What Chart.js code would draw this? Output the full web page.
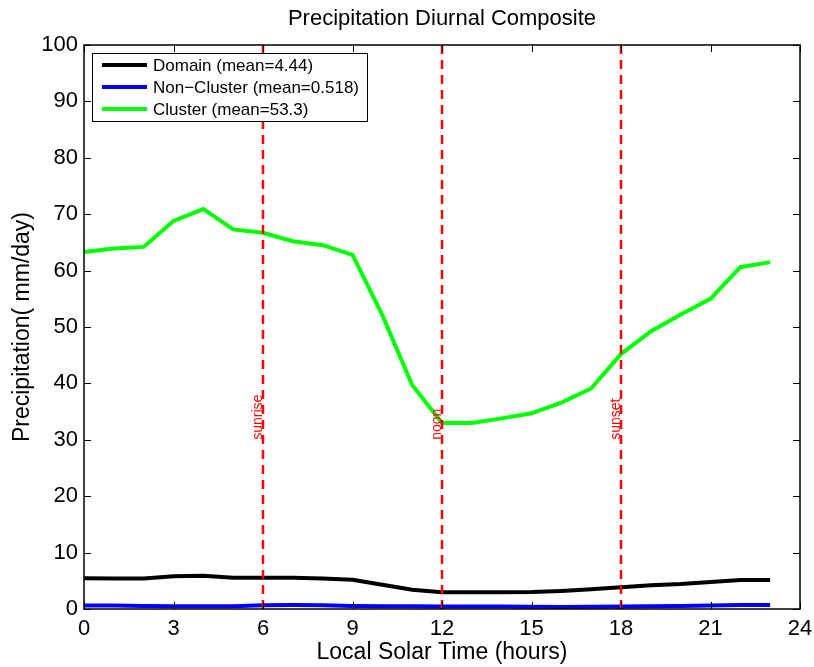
<!DOCTYPE html>
<html>
<head>
<meta charset="utf-8">
<script src="https://cdn.jsdelivr.net/npm/chart.js@4.4.1/dist/chart.umd.min.js"></script>
<style>
  html, body { margin: 0; padding: 0; background: #ffffff; }
  #wrap { width: 814px; height: 667px; }
</style>
</head>
<body>
<div id="wrap"><canvas id="c" width="814" height="667"></canvas></div>
<script>
// Hourly composite precipitation (mm/day) by local solar time
const hours = [0, 1, 2, 3, 4, 5, 6, 7, 8, 9, 10, 11, 12, 13, 14, 15, 16, 17, 18, 19, 20, 21, 22, 23];
const domain = [5.44, 5.42, 5.40, 5.79, 5.90, 5.55, 5.55, 5.55, 5.40, 5.20, 4.30, 3.40,
                2.95, 2.95, 2.95, 3.00, 3.20, 3.50, 3.85, 4.20, 4.43, 4.79, 5.14, 5.14];
const nonCluster = [0.60, 0.60, 0.55, 0.50, 0.50, 0.50, 0.65, 0.70, 0.65, 0.55, 0.50, 0.50,
                    0.45, 0.45, 0.45, 0.40, 0.35, 0.40, 0.45, 0.50, 0.55, 0.60, 0.70, 0.70];
const cluster = [63.3, 63.9, 64.2, 68.8, 70.9, 67.3, 66.7, 65.2, 64.5, 62.8, 52.1, 39.7,
                 33.0, 33.0, 33.8, 34.7, 36.6, 39.1, 45.2, 49.2, 52.2, 55.0, 60.6, 61.5];
const seriesLabels = ['Domain (mean=4.44)', 'Non\u2212Cluster (mean=0.518)', 'Cluster (mean=53.3)'];
const seriesColors = ['#000000', '#0000ff', '#00ff00'];

// Reference times of day marked by dashed lines
const eventHours = [6, 12, 18];
const eventNames = ['sunrise', 'noon', 'sunset'];
const eventLabelLevel = 30;

const xTicks = [0, 3, 6, 9, 12, 15, 18, 21, 24];
const yTicks = [0, 10, 20, 30, 40, 50, 60, 70, 80, 90, 100];

const chartTitle = 'Precipitation Diurnal Composite';
const xTitle = 'Local Solar Time (hours)';
const yTitle = 'Precipitation( mm/day)';

const FONT = '"Liberation Sans", Arial, Helvetica, sans-serif';

const toPoints = (ys) => hours.map((h, i) => ({ x: h, y: ys[i] }));

const seriesSets = [domain, nonCluster, cluster].map((ys, i) => ({
  label: seriesLabels[i],
  data: toPoints(ys),
  borderColor: seriesColors[i],
  backgroundColor: seriesColors[i],
  borderWidth: 4,
  pointRadius: 0,
  tension: 0,
  fill: false,
  isSeries: true
}));

const eventSets = eventHours.map((h, i) => ({
  label: eventNames[i],
  data: [{ x: h, y: 0 }, { x: h, y: 100 }],
  borderColor: '#ff0000',
  borderWidth: 2.5,
  borderDash: [9, 6],
  pointRadius: 0,
  fill: false,
  isSeries: false
}));

// Box frame, inward ticks on all four sides, title, legend and event labels
const framePlugin = {
  id: 'frame',
  afterDatasetsDraw(chart) {
    const { ctx, chartArea: a, scales } = chart;
    ctx.save();
    ctx.strokeStyle = '#000';
    ctx.lineWidth = 1.5;
    ctx.strokeRect(a.left, a.top, a.right - a.left, a.bottom - a.top);
    const tl = 7;
    ctx.lineWidth = 1;
    ctx.beginPath();
    xTicks.forEach(v => {
      const px = Math.round(scales.x.getPixelForValue(v)) + 0.5;
      ctx.moveTo(px, a.bottom); ctx.lineTo(px, a.bottom - tl);
      ctx.moveTo(px, a.top); ctx.lineTo(px, a.top + tl);
    });
    yTicks.forEach(v => {
      const py = Math.round(scales.y.getPixelForValue(v)) + 0.5;
      ctx.moveTo(a.left, py); ctx.lineTo(a.left + tl, py);
      ctx.moveTo(a.right, py); ctx.lineTo(a.right - tl, py);
    });
    ctx.stroke();

    // event labels, reading upward beside each dashed line
    ctx.fillStyle = '#ff0000';
    ctx.font = '14px ' + FONT;
    ctx.textAlign = 'left';
    ctx.textBaseline = 'alphabetic';
    eventHours.forEach((h, i) => {
      const px = scales.x.getPixelForValue(h);
      const py = scales.y.getPixelForValue(eventLabelLevel);
      ctx.save();
      ctx.translate(px - 1, py);
      ctx.rotate(-Math.PI / 2);
      ctx.fillText(eventNames[i], 0, 0);
      ctx.restore();
    });

    // title
    ctx.fillStyle = '#000';
    ctx.font = '22px ' + FONT;
    ctx.textAlign = 'center';
    ctx.textBaseline = 'middle';
    ctx.fillText(chartTitle, (a.left + a.right) / 2, 19);

    // legend
    const lx = a.left + 8, ly = a.top + 8, lw = 275, lh = 68;
    ctx.fillStyle = '#fff';
    ctx.fillRect(lx, ly, lw, lh);
    ctx.strokeStyle = '#000';
    ctx.lineWidth = 1;
    ctx.strokeRect(lx + 0.5, ly + 0.5, lw, lh);
    ctx.font = '17px ' + FONT;
    ctx.textAlign = 'left';
    ctx.textBaseline = 'middle';
    chart.data.datasets.filter(d => d.isSeries).forEach((d, i) => {
      const ry = ly + 12 + i * 22;
      ctx.strokeStyle = d.borderColor;
      ctx.lineWidth = 4;
      ctx.beginPath();
      ctx.moveTo(lx + 10, ry); ctx.lineTo(lx + 55, ry);
      ctx.stroke();
      ctx.fillStyle = '#000';
      ctx.fillText(d.label, lx + 61, ry + 1);
    });
    ctx.restore();
  }
};

new Chart(document.getElementById('c'), {
  type: 'line',
  data: { datasets: [...eventSets, ...seriesSets] },
  options: {
    responsive: false,
    animation: false,
    devicePixelRatio: 1,
    layout: { padding: { top: 45, right: 14, bottom: 0, left: 0 } },
    plugins: {
      legend: { display: false },
      title: { display: false },
      tooltip: { enabled: false }
    },
    scales: {
      x: {
        type: 'linear',
        min: 0, max: 24,
        afterBuildTicks: s => { s.ticks = xTicks.map(v => ({ value: v })); },
        afterFit: s => { s.height = 58; s.paddingLeft = 0; s.paddingRight = 0; },
        grid: { display: false, drawTicks: false },
        border: { display: false },
        ticks: { color: '#000', font: { family: FONT, size: 22 }, padding: 7, maxRotation: 0, autoSkip: false },
        title: { display: true, text: xTitle, color: '#000', font: { family: FONT, size: 23 }, padding: { top: 0, bottom: 1 } }
      },
      y: {
        type: 'linear',
        min: 0, max: 100,
        afterBuildTicks: s => { s.ticks = yTicks.map(v => ({ value: v })); },
        afterFit: s => { s.width = 84; s.paddingTop = 0; s.paddingBottom = 0; },
        grid: { display: false, drawTicks: false },
        border: { display: false },
        ticks: { color: '#000', font: { family: FONT, size: 22 }, padding: 6, autoSkip: false },
        title: { display: true, text: yTitle, color: '#000', font: { family: FONT, size: 23 }, padding: { top: 9, bottom: 0 } }
      }
    }
  },
  plugins: [framePlugin]
});
</script>
</body>
</html>
